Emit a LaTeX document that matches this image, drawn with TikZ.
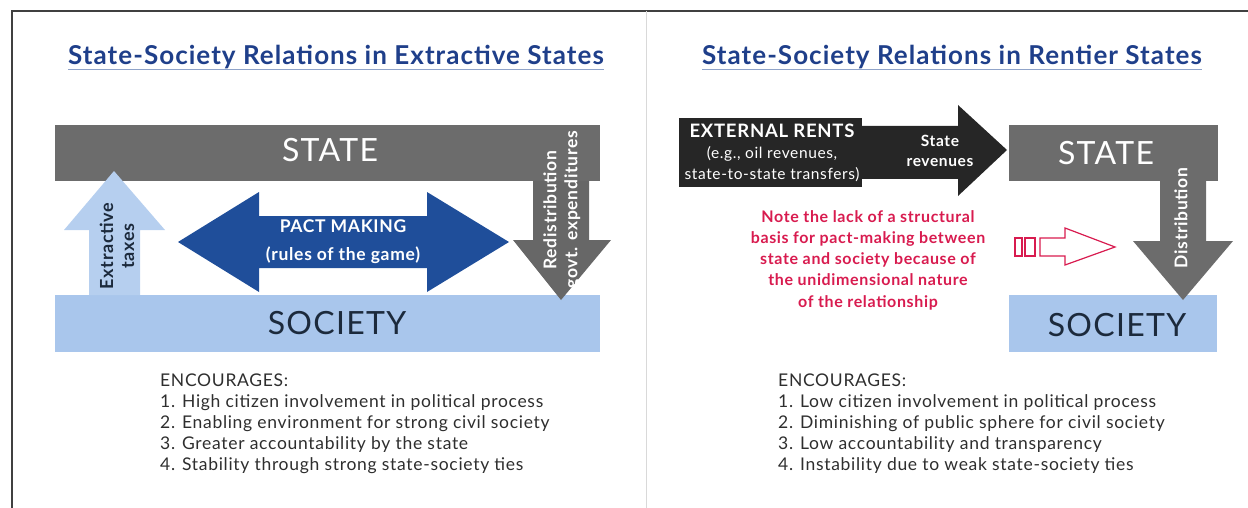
\documentclass[tikz,border=0pt]{standalone}
\usepackage{fontspec}
\setmainfont{Lato}[LetterSpace=4]
\definecolor{titleblue}{HTML}{1F3F8A}
\definecolor{lineblue}{HTML}{8FA3C9}
\definecolor{stategray}{HTML}{6C6C6C}
\definecolor{socblue}{HTML}{A9C6EC}
\definecolor{pactblue}{HTML}{1F4E9A}
\definecolor{rentblack}{HTML}{262626}
\definecolor{notered}{HTML}{D81B4F}
\definecolor{darktext}{HTML}{1C2A3C}
\definecolor{listgray}{HTML}{2E2E2E}
\begin{document}
\begin{tikzpicture}[x=1pt,y=-1pt,
  ttl/.style={font=\fontsize{26}{30}\selectfont\bfseries,text=titleblue,inner sep=0pt},
  big/.style={font=\fontsize{32}{36}\selectfont},
  lbl/.style={font=\fontsize{18}{21}\selectfont\bfseries,align=center,inner sep=0pt},
  lst/.style={font=\fontsize{17.5}{21}\selectfont,text=listgray,align=left,anchor=north west,inner sep=0pt}]
\useasboundingbox (0,0) rectangle (1248,508);
% frame and divider
\draw[black!75,line width=1.4pt] (12,508)--(12,11)--(1248,11);
\draw[black!15] (646,11)--(646,508);

% ---- extractive states ----
\node[ttl] (ttlA) at (336,57) {State-Society Relations in Extractive States};
\draw[lineblue,line width=0.8pt] ([yshift=-5pt]ttlA.base west)--([yshift=-5pt]ttlA.base east);
\fill[stategray] (55,125) rectangle (600,181);
\fill[socblue] (55,295) rectangle (600,352);
\fill[socblue!85!white] (89,295)--(89,230)--(64,230)--(114,171)--(165,230)--(140,230)--(140,295)--cycle;
\fill[pactblue] (178,242)--(259,192)--(259,216)--(427,216)--(427,192)--(509,242)--(427,292)--(427,268)--(259,268)--(259,292)--cycle;
\fill[stategray!95!black] (533,181)--(533,240)--(513,240)--(561,300)--(611,240)--(589,240)--(589,181)--cycle;
\node[big,text=white] (stateA) at (330,150) {STATE};
\node[big,text=darktext] (socA) at (337,323) {SOCIETY};
\node[lbl,text=white,font=\fontsize{17.5}{28}\selectfont\bfseries] (pact) at (343,242) {PACT MAKING\\(rules of the game)};
\node[lbl,text=darktext,rotate=90] (taxes) at (117,246) {Extractive\\taxes};
\node[lbl,text=white,rotate=90,font=\fontsize{17.5}{21}\selectfont\bfseries] (redis) at (562,210) {Redistribution\\govt. expenditures};
\node[lst] (listA) at (160,374) {ENCOURAGES:\\
1. High citizen involvement in political process\\
2. Enabling environment for strong civil society\\
3. Greater accountability by the state\\
4. Stability through strong state-society ties};

% ---- rentier states ----
\node[ttl] (ttlB) at (952,57) {State-Society Relations in Rentier States};
\draw[lineblue,line width=0.8pt] ([yshift=-5pt]ttlB.base west)--([yshift=-5pt]ttlB.base east);
\fill[rentblack] (679,118) rectangle (862,187);
\fill[rentblack] (862,126)--(958,126)--(958,105)--(1007,150)--(958,196)--(958,179)--(862,179)--cycle;
\fill[stategray] (1009,125) rectangle (1218,181);
\fill[socblue] (1009,295) rectangle (1217,352);
\fill[stategray] (1160,181)--(1160,241)--(1133,241)--(1183,300)--(1233,241)--(1206,241)--(1206,181)--cycle;
\node[lbl,text=white,font=\fontsize{18.5}{21}\selectfont\bfseries] (rentA) at (772,131) {EXTERNAL RENTS};
\node[lbl,text=white,font=\fontsize{15.5}{21}\selectfont] (rentB) at (772,164) {(e.g., oil revenues,\\state-to-state transfers)};
\node[lbl,text=white,font=\fontsize{15.5}{20}\selectfont\bfseries] (rev) at (940,151) {State\\revenues};
\node[big,text=white] (stateB) at (1106,153) {STATE};
\node[big,text=darktext] (socB) at (1117,325) {SOCIETY};
\node[lbl,text=white,rotate=90,font=\fontsize{17.5}{21}\selectfont\bfseries] (distr) at (1181,218) {Distribution};
\node[lbl,text=notered,font=\fontsize{16}{21.2}\selectfont\bfseries] (note) at (868,260) {Note the lack of a structural\\basis for pact-making between\\state and society because of\\the unidimensional nature\\of the relationship};
\draw[notered,line width=1.2pt] (1015,238) rectangle (1022,256) (1025,238) rectangle (1035,256);
\draw[notered,line width=1.2pt] (1040,238)--(1065,238)--(1065,228)--(1115,247)--(1065,265)--(1065,256)--(1040,256)--cycle;
\node[lst] (listB) at (778,374) {ENCOURAGES:\\
1. Low citizen involvement in political process\\
2. Diminishing of public sphere for civil society\\
3. Low accountability and transparency\\
4. Instability due to weak state-society ties};
\end{tikzpicture}
\end{document}
